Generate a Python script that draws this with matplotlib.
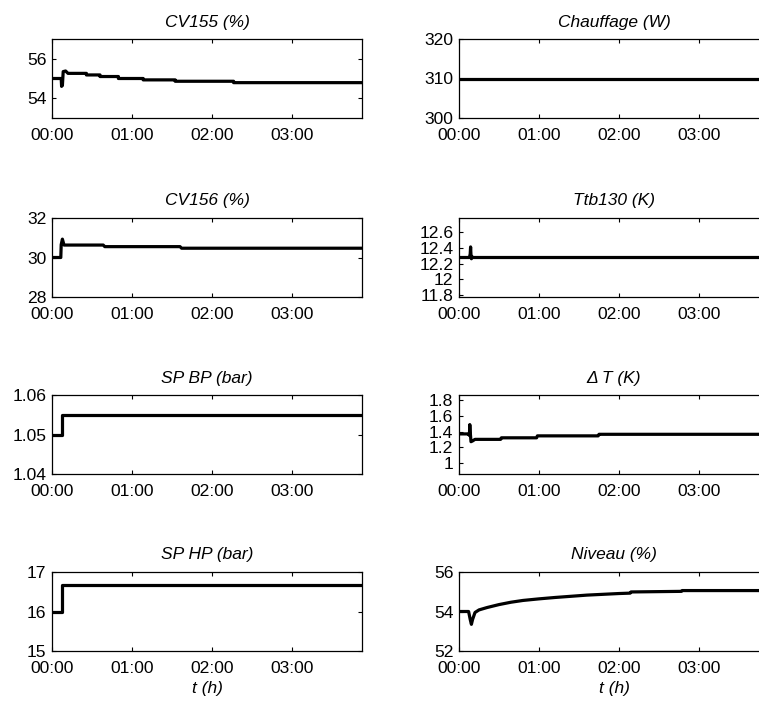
import matplotlib
matplotlib.use('Agg')
import matplotlib.pyplot as plt
import numpy as np

plt.rcParams['font.family'] = ['Liberation Sans', 'DejaVu Sans']

# time breakpoints in hours
t_cv155 = [0, 0.115, 0.12, 0.125, 0.13, 0.14, 0.17, 0.2, 0.43, 0.43, 0.6, 0.6, 0.83, 0.83,
           1.14, 1.14, 1.54, 1.54, 2.27, 2.27, 3.9]
v_cv155 = [55.0, 55.0, 54.6, 55.0, 54.65, 55.35, 55.38, 55.26, 55.26, 55.18, 55.18, 55.1,
           55.1, 55.0, 55.0, 54.93, 54.93, 54.86, 54.86, 54.79, 54.79]

t_chauf = [0, 3.9]
v_chauf = [310, 310]

t_cv156 = [0, 0.11, 0.115, 0.13, 0.15, 0.64, 0.66, 1.6, 1.62, 3.9]
v_cv156 = [30.0, 30.0, 30.65, 30.93, 30.63, 30.63, 30.55, 30.55, 30.47, 30.47]

t_ttb = [0, 0.13, 0.14, 0.145, 0.15, 0.155, 0.16, 0.17, 3.9]
v_ttb = [12.276, 12.276, 12.32, 12.41, 12.30, 12.26, 12.29, 12.276, 12.276]

t_bp = [0, 0.12, 0.12, 3.9]
v_bp = [1.05, 1.05, 1.055, 1.055]

t_dt = [0, 0.12, 0.13, 0.135, 0.14, 0.15, 0.17, 0.2, 0.52, 0.53, 0.97, 0.98, 1.74, 1.75, 3.9]
v_dt = [1.37, 1.37, 1.35, 1.49, 1.40, 1.27, 1.28, 1.30, 1.30, 1.32, 1.32, 1.345, 1.345, 1.365, 1.365]

t_hp = [0, 0.12, 0.12, 3.9]
v_hp = [16.0, 16.0, 16.67, 16.67]

t_niv = [0, 0.12, 0.14, 0.155, 0.17, 0.2, 0.25, 0.35, 0.5, 0.65, 0.8, 1.0, 1.2, 1.4, 1.6,
         1.8, 2.0, 2.14, 2.15, 2.78, 2.79, 3.9]
v_niv = [54.0, 54.0, 53.6, 53.35, 53.6, 53.95, 54.08, 54.2, 54.35, 54.47, 54.56, 54.64, 54.71,
         54.77, 54.83, 54.87, 54.91, 54.93, 54.99, 55.02, 55.06, 55.06]

xticks = [0, 1, 2, 3]
xticklabels = ['00:00', '01:00', '02:00', '03:00']

panels = [
    # (title, t, v, ylim, yticks, yticklabels, col, row)
    ('CV155 (%)', t_cv155, v_cv155, (53, 57), [54, 56], ['54', '56'], 0, 0),
    ('Chauffage (W)', t_chauf, v_chauf, (300, 320), [300, 310, 320], ['300', '310', '320'], 1, 0),
    ('CV156 (%)', t_cv156, v_cv156, (28, 32), [28, 30, 32], ['28', '30', '32'], 0, 1),
    ('Ttb130 (K)', t_ttb, v_ttb, (11.776, 12.776), [11.8, 12, 12.2, 12.4, 12.6],
     ['11.8', '12', '12.2', '12.4', '12.6'], 1, 1),
    ('SP BP (bar)', t_bp, v_bp, (1.04, 1.06), [1.04, 1.05, 1.06], ['1.04', '1.05', '1.06'], 0, 2),
    ('\u0394 T (K)', t_dt, v_dt, (0.855, 1.87), [1, 1.2, 1.4, 1.6, 1.8],
     ['1', '1.2', '1.4', '1.6', '1.8'], 1, 2),
    ('SP HP (bar)', t_hp, v_hp, (15, 17), [15, 16, 17], ['15', '16', '17'], 0, 3),
    ('Niveau (%)', t_niv, v_niv, (52, 56), [52, 54, 56], ['52', '54', '56'], 1, 3),
]

W, H = 759, 701
fig = plt.figure(figsize=(W / 100, H / 100), dpi=100)

col_left = [52, 459]
row_bottom = [118, 297, 474, 651]
ax_w, ax_h = 310, 79

for title, t, v, ylim, yt, ytl, col, row in panels:
    ax = fig.add_axes([col_left[col] / W, 1 - row_bottom[row] / H, ax_w / W, ax_h / H])
    ax.plot(t, v, color='black', lw=2.3)
    ax.set_xlim(0, 3.875)
    ax.set_ylim(*ylim)
    ax.set_xticks(xticks)
    ax.set_xticklabels(xticklabels)
    ax.set_yticks(yt)
    ax.set_yticklabels(ytl)
    ax.tick_params(direction='in', length=3, width=0.8, top=True, right=True,
                   labelsize=12.6, pad=4)
    ax.tick_params(axis='x', pad=7)
    for s in ax.spines.values():
        s.set_linewidth(0.9)
    ax.set_title(title, fontsize=12.5, style='italic', pad=9)
    if row == 3:
        ax.set_xlabel('t (h)', fontsize=12.5, style='italic', labelpad=4)

fig.savefig('out.png', dpi=100)
